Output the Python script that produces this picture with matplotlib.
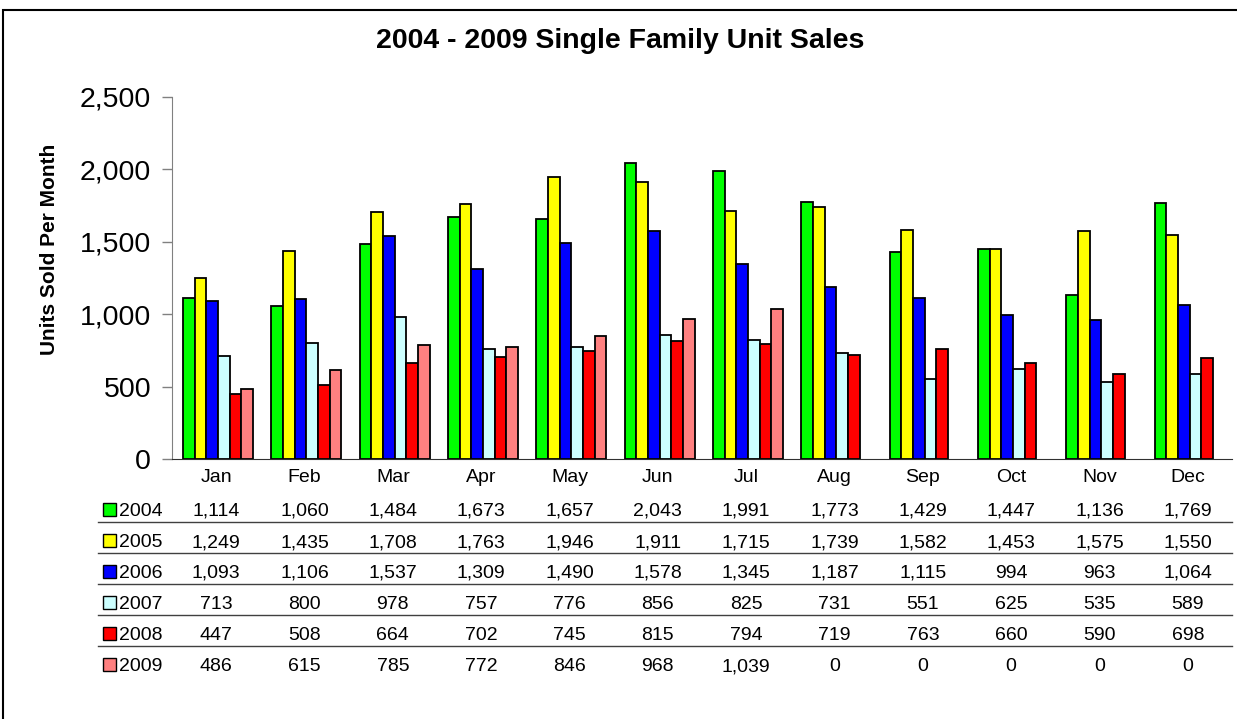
import numpy as np
import matplotlib.pyplot as plt
from matplotlib.patches import Rectangle
from matplotlib.lines import Line2D

plt.rcParams['font.family'] = ['Liberation Sans', 'DejaVu Sans']

months = ['Jan', 'Feb', 'Mar', 'Apr', 'May', 'Jun', 'Jul', 'Aug', 'Sep', 'Oct', 'Nov', 'Dec']
years = ['2004', '2005', '2006', '2007', '2008', '2009']
s2004 = [1114, 1060, 1484, 1673, 1657, 2043, 1991, 1773, 1429, 1447, 1136, 1769]
s2005 = [1249, 1435, 1708, 1763, 1946, 1911, 1715, 1739, 1582, 1453, 1575, 1550]
s2006 = [1093, 1106, 1537, 1309, 1490, 1578, 1345, 1187, 1115, 994, 963, 1064]
s2007 = [713, 800, 978, 757, 776, 856, 825, 731, 551, 625, 535, 589]
s2008 = [447, 508, 664, 702, 745, 815, 794, 719, 763, 660, 590, 698]
s2009 = [486, 615, 785, 772, 846, 968, 1039, 0, 0, 0, 0, 0]
series = [s2004, s2005, s2006, s2007, s2008, s2009]
colors = ['#00FF00', '#FFFF00', '#0000FF', '#CCFFFF', '#FF0000', '#FF8080']

W, H = 1237, 719
fig = plt.figure(figsize=(W/100, H/100), dpi=100)

# pixel -> figure fraction helpers
def fx(px):
    return px / W
def fy(py):
    return 1 - py / H

ax = fig.add_axes([fx(172), fy(459), fx(1232) - fx(172), fy(97) - fy(459)])

x = np.arange(len(months))
bw = 0.132
for i, (vals, c) in enumerate(zip(series, colors)):
    lw = [1.3 if v > 0 else 0 for v in vals]  # no outline for empty months
    ax.bar(x + 0.02 + (i - 2.5) * bw, vals, width=bw, color=c, edgecolor='black',
           linewidth=lw, zorder=2)

ax.set_xlim(-0.5, len(months) - 0.5)
ax.set_ylim(0, 2500)
ax.set_yticks(np.arange(0, 2501, 500))
ax.set_yticklabels([f'{v:,}' for v in range(0, 2501, 500)], fontsize=20.5)
ax.tick_params(axis='y', length=7, width=1, color='#808080', pad=8)
ax.set_xticks(x)
ax.set_xticklabels(months, fontsize=14)
ax.tick_params(axis='x', length=0, pad=7)
for s in ['top', 'right']:
    ax.spines[s].set_visible(False)
ax.spines['left'].set_color('#808080')
ax.spines['bottom'].set_color('#303030')
ax.spines['bottom'].set_zorder(3)

fig.text(fx(620), fy(48), '2004 - 2009 Single Family Unit Sales', fontsize=20.5,
         fontweight='bold', ha='center', va='baseline')
fig.text(fx(50), fy(249), 'Units Sold Per Month', fontsize=15, fontweight='bold',
         rotation=90, ha='center', va='center')

# data table under the chart
row_y = [509, 540, 571, 602, 633, 664]
for r, (yr, vals, c) in enumerate(zip(years, series, colors)):
    yc = row_y[r]
    base = fy(yc + 7)
    fig.add_artist(Rectangle((fx(103), fy(yc + 6.5)), fx(13), 13 / H,
                             facecolor=c, edgecolor='black', linewidth=1.0))
    fig.text(fx(119), base, yr, fontsize=14, ha='left', va='baseline')
    for j, v in enumerate(vals):
        xpix = ax.transData.transform((j, 0))[0]
        fig.text(xpix / W, base, f'{v:,}', fontsize=14, ha='center', va='baseline')
    if r < len(years) - 1:
        ly = yc + 13
        fig.add_artist(Line2D([fx(98), fx(1232)], [fy(ly), fy(ly)], color='#404040', linewidth=1.0))

# outer frame
fig.add_artist(Rectangle((fx(3), -0.1), 1.2, fy(10) + 0.1, fill=False,
                         edgecolor='black', linewidth=1.5, clip_on=False))

fig.savefig('out.png', dpi=100)
